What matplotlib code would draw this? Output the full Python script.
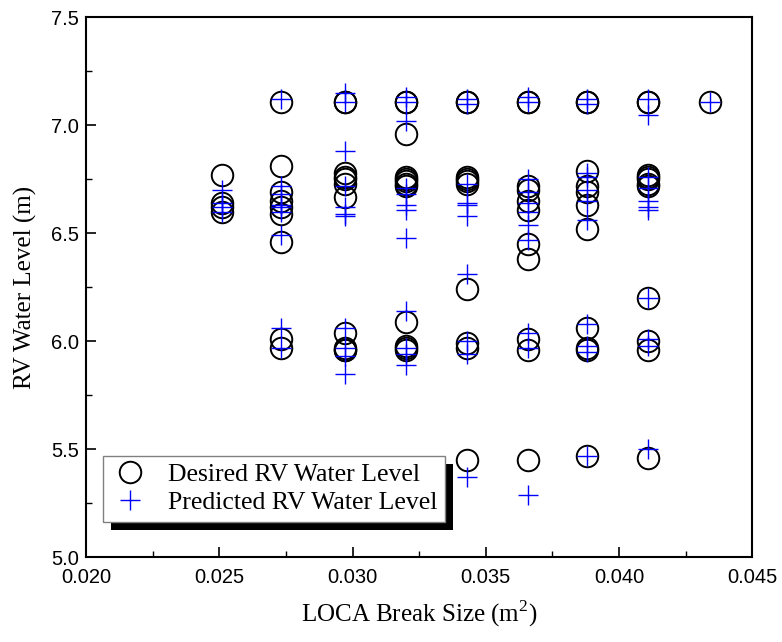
import matplotlib
matplotlib.use('Agg')
import matplotlib.pyplot as plt
from matplotlib.patches import Rectangle
from matplotlib.ticker import MultipleLocator

plt.rcParams['mathtext.fontset'] = 'custom'
plt.rcParams['mathtext.rm'] = 'Liberation Serif'

# Break sizes (m^2), one per column of points
break_sizes = [0.0251, 0.0273, 0.0297, 0.0320, 0.0343, 0.0366, 0.0388, 0.0411, 0.0434]

# Desired RV water level (m) for each break size
desired = [
    [6.77, 6.64, 6.62, 6.60],
    [7.11, 6.81, 6.69, 6.65, 6.62, 6.59, 6.46, 6.01, 5.97],
    [7.11, 7.11, 6.78, 6.76, 6.75, 6.73, 6.67, 6.04, 5.97, 5.96, 5.96],
    [7.11, 7.11, 6.96, 6.76, 6.75, 6.74, 6.73, 6.72, 6.09, 5.98, 5.97, 5.96],
    [7.11, 7.11, 6.76, 6.75, 6.74, 6.73, 6.24, 5.99, 5.97, 5.45],
    [7.11, 7.11, 6.72, 6.70, 6.65, 6.61, 6.45, 6.38, 6.01, 5.96, 5.45],
    [7.11, 7.11, 6.79, 6.72, 6.69, 6.63, 6.52, 6.06, 5.97, 5.96, 5.47],
    [7.11, 7.11, 6.77, 6.76, 6.75, 6.73, 6.72, 6.20, 6.00, 5.96, 5.46],
    [7.11],
]

# Predicted RV water level (m) for each break size
predicted = [
    [6.70, 6.64, 6.62, 6.60],
    [7.12, 6.72, 6.68, 6.63, 6.62, 6.60, 6.49, 6.06, 5.97],
    [7.15, 7.11, 6.88, 6.72, 6.62, 6.59, 6.58, 6.06, 5.97, 5.93, 5.85],
    [7.13, 7.11, 7.02, 6.71, 6.68, 6.63, 6.61, 6.48, 6.14, 5.97, 5.94, 5.89],
    [7.12, 7.10, 6.73, 6.64, 6.63, 6.58, 6.31, 6.00, 5.94, 5.37],
    [7.13, 7.11, 6.75, 6.69, 6.64, 6.60, 6.54, 6.47, 6.04, 5.97, 5.29],
    [7.12, 7.10, 6.78, 6.76, 6.70, 6.65, 6.56, 6.08, 5.98, 5.95, 5.47],
    [7.12, 7.05, 6.76, 6.71, 6.65, 6.62, 6.61, 6.20, 6.01, 5.98, 5.50],
    [7.11],
]


def flatten(groups):
    xs, ys = [], []
    for x, vals in zip(break_sizes, groups):
        xs += [x] * len(vals)
        ys += vals
    return xs, ys


fig = plt.figure(figsize=(7.82, 6.42), dpi=100)
ax = fig.add_axes([0.110, 0.132, 0.852, 0.841])

xd, yd = flatten(desired)
xp, yp = flatten(predicted)

ax.plot(xd, yd, 'o', mfc='none', mec='black', ms=15.5, mew=1.4,
        label='Desired RV Water Level')
ax.plot(xp, yp, '+', color='blue', ms=14, mew=1.0,
        label='Predicted RV Water Level')

ax.set_xlim(0.020, 0.045)
ax.set_ylim(5.0, 7.5)
ax.xaxis.set_major_locator(MultipleLocator(0.005))
ax.xaxis.set_minor_locator(MultipleLocator(0.0025))
ax.yaxis.set_major_locator(MultipleLocator(0.5))
ax.yaxis.set_minor_locator(MultipleLocator(0.25))
ax.xaxis.set_major_formatter(plt.FormatStrFormatter('%.3f'))
ax.yaxis.set_major_formatter(plt.FormatStrFormatter('%.1f'))
ax.tick_params(which='both', direction='in', top=False, right=False)
ax.tick_params(which='major', length=7, width=1.2, labelsize=14.5)
ax.tick_params(which='minor', length=4, width=1.0)
ax.tick_params(axis='x', which='major', pad=8)
ax.tick_params(axis='y', which='major', pad=5)
for lab in ax.get_xticklabels() + ax.get_yticklabels():
    lab.set_fontfamily('Liberation Sans')
for sp in ax.spines.values():
    sp.set_linewidth(1.5)

ax.set_xlabel('LOCA Break Size (m$^2$)', fontsize=18, family='Liberation Serif',
              labelpad=8)
ax.set_ylabel('RV Water Level (m)', fontsize=18, family='Liberation Serif',
              labelpad=10)

leg = ax.legend(loc='lower left', bbox_to_anchor=(0.025, 0.065), borderaxespad=0,
                frameon=True, fancybox=False, edgecolor='gray',
                prop={'family': 'Liberation Serif', 'size': 18.5},
                handlelength=1.5, handletextpad=0.75, borderpad=0.3,
                labelspacing=0.2)
leg.get_frame().set_linewidth(1.0)
leg.get_frame().set_alpha(1)
leg.set_zorder(6)

# black drop shadow behind the legend box
fig.canvas.draw()
bb = leg.get_window_extent()
inv = fig.transFigure.inverted()
(x0, y0), (x1, y1) = inv.transform([(bb.x0 + 8, bb.y0 - 8), (bb.x1 + 8, bb.y1 - 8)])
shadow = Rectangle((x0, y0), x1 - x0, y1 - y0, transform=fig.transFigure,
                   facecolor='black', edgecolor='none', zorder=5)
ax.add_artist(shadow)
shadow.set_clip_on(False)

plt.savefig('out.png', dpi=100)
